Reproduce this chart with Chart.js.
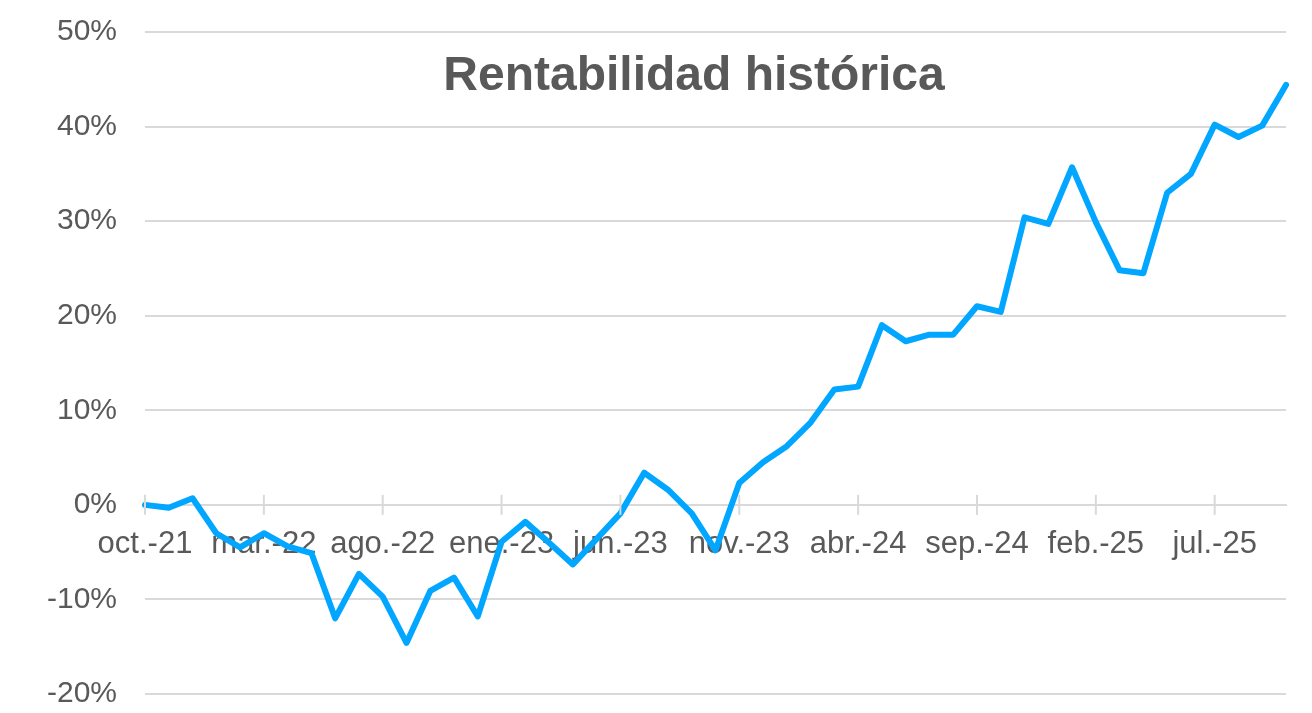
<!DOCTYPE html>
<html>
<head>
<meta charset="utf-8">
<title>Rentabilidad histórica</title>
<script src="https://cdn.jsdelivr.net/npm/chart.js@4/dist/chart.umd.min.js"></script>
<style>
  html, body { margin: 0; padding: 0; background: #fff; }
  #wrap { width: 1312px; height: 713px; position: relative; }
</style>
</head>
<body>
<div id="wrap"><canvas id="rentabilidad"></canvas></div>
<script>
// meses (oct.-21 a oct.-25)
const meses = [
  'oct.-21', 'nov.-21', 'dic.-21', 'ene.-22', 'feb.-22', 'mar.-22', 'abr.-22', 'may.-22', 'jun.-22', 'jul.-22',
  'ago.-22', 'sep.-22', 'oct.-22', 'nov.-22', 'dic.-22', 'ene.-23', 'feb.-23', 'mar.-23', 'abr.-23', 'may.-23',
  'jun.-23', 'jul.-23', 'ago.-23', 'sep.-23', 'oct.-23', 'nov.-23', 'dic.-23', 'ene.-24', 'feb.-24', 'mar.-24',
  'abr.-24', 'may.-24', 'jun.-24', 'jul.-24', 'ago.-24', 'sep.-24', 'oct.-24', 'nov.-24', 'dic.-24', 'ene.-25',
  'feb.-25', 'mar.-25', 'abr.-25', 'may.-25', 'jun.-25', 'jul.-25', 'ago.-25', 'sep.-25', 'oct.-25'
];

// rentabilidad acumulada en %
const rentabilidad = [
  0.0, -0.3, 0.7, -3.0, -4.5, -3.0, -4.4, -5.1, -12.0, -7.3,
  -9.7, -14.6, -9.1, -7.7, -11.8, -3.9, -1.8, -4.0, -6.3, -3.6,
  -0.9, 3.4, 1.6, -0.9, -4.8, 2.3, 4.5, 6.2, 8.7, 12.2,
  12.5, 19.0, 17.3, 18.0, 18.0, 21.0, 20.4, 30.4, 29.7, 35.7,
  29.9, 24.8, 24.5, 33.0, 35.0, 40.2, 38.9, 40.1, 44.4
];

const yMin = -20;
const yMax = 50;
const yStep = 10;
const cadaCuantos = 5; // una etiqueta cada 5 meses

const gris = '#595959';
const rejilla = '#d9d9d9';

// marcas cruzadas sobre el eje x (como en Excel)
const marcasEje = {
  id: 'marcasEje',
  afterDatasetsDraw(chart) {
    const x = chart.scales.x, y = chart.scales.y;
    const y0 = y.getPixelForValue(0);
    const ctx = chart.ctx;
    ctx.save();
    ctx.strokeStyle = rejilla;
    ctx.lineWidth = 2;
    for (let i = 0; i < meses.length; i += cadaCuantos) {
      const px = x.getPixelForValue(i);
      ctx.beginPath();
      ctx.moveTo(px, y0 - 10);
      ctx.lineTo(px, y0 + 10);
      ctx.stroke();
    }
    ctx.restore();
  }
};

// titulo encima del area del grafico
const titulo = {
  id: 'titulo',
  afterDraw(chart) {
    const ctx = chart.ctx;
    ctx.save();
    ctx.font = 'bold 48px "Liberation Sans", Arial, sans-serif';
    ctx.fillStyle = gris;
    ctx.textAlign = 'center';
    ctx.textBaseline = 'middle';
    ctx.fillText('Rentabilidad histórica', 694, 77);
    ctx.restore();
  }
};

new Chart(document.getElementById('rentabilidad'), {
  type: 'line',
  data: {
    labels: meses,
    datasets: [{
      label: 'Rentabilidad',
      data: rentabilidad,
      borderColor: '#00a6ff',
      backgroundColor: '#00a6ff',
      borderWidth: 6,
      borderCapStyle: 'round',
      borderJoinStyle: 'round',
      pointRadius: 0,
      tension: 0,
      clip: false
    }]
  },
  options: {
    responsive: true,
    maintainAspectRatio: false,
    animation: false,
    layout: { padding: { top: 32, right: 26, bottom: 19, left: 0 } },
    plugins: {
      legend: { display: false },
      tooltip: { enabled: false },
      title: { display: false }
    },
    scales: {
      x: {
        position: { y: 0 },
        afterFit(scale) { scale.paddingLeft = 0; scale.paddingRight = 0; },
        grid: { display: false, drawTicks: false },
        border: { display: true, color: rejilla, width: 2 },
        ticks: {
          autoSkip: false,
          maxRotation: 0,
          padding: 21,
          color: gris,
          font: { family: '"Liberation Sans", Arial, sans-serif', size: 31 },
          callback: function (val, i) {
            return i % cadaCuantos === 0 ? meses[i] : null;
          }
        }
      },
      y: {
        min: yMin,
        max: yMax,
        afterFit(scale) {
          scale.width = 145;
          scale.paddingTop = 0;
          scale.paddingBottom = 0;
        },
        grid: { color: rejilla, lineWidth: 2, drawTicks: false },
        border: { display: false },
        ticks: {
          stepSize: yStep,
          padding: 28,
          color: gris,
          font: { family: '"Liberation Sans", Arial, sans-serif', size: 30 },
          callback: v => v + '%'
        }
      }
    }
  },
  plugins: [marcasEje, titulo]
});
</script>
</body>
</html>
